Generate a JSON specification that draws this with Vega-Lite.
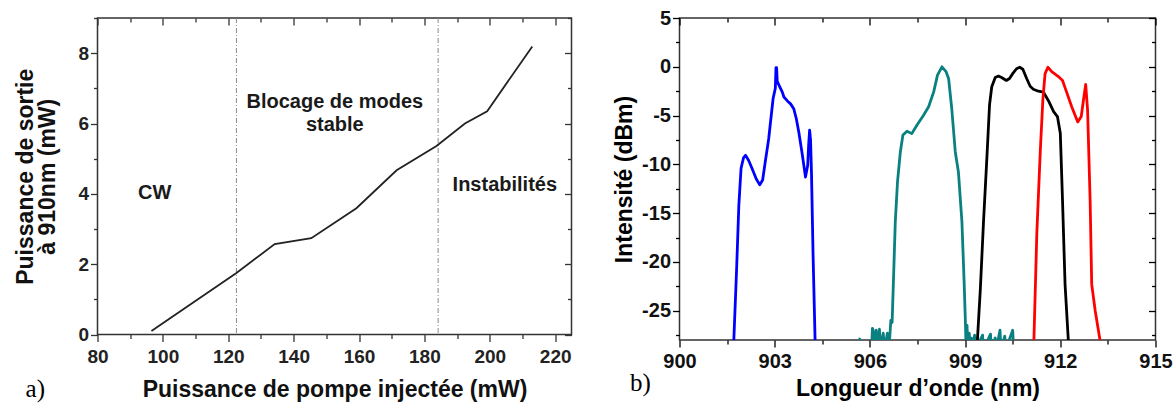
{
  "$schema": "https://vega.github.io/schema/vega-lite/v6.json",
  "padding": {"left": 13.5, "top": 7, "right": 0, "bottom": 0},
  "bounds": "flush",
  "spacing": 108,
  "config": {
    "view": {"stroke": "#333333", "strokeWidth": 1.5},
    "axis": {"grid": false, "labelFont": "Liberation Sans", "labelFontWeight": "bold", "titleFont": "Liberation Sans", "titleFontWeight": "bold"}
  },
  "datasets": {
    "pump": [
      {"pompe": 96.5, "sortie": 0.1},
      {"pompe": 122.5, "sortie": 1.75},
      {"pompe": 134.2, "sortie": 2.57},
      {"pompe": 145.4, "sortie": 2.74},
      {"pompe": 159.2, "sortie": 3.59},
      {"pompe": 171.5, "sortie": 4.67},
      {"pompe": 183.7, "sortie": 5.36},
      {"pompe": 192.4, "sortie": 6.0},
      {"pompe": 199.2, "sortie": 6.35},
      {"pompe": 213.0, "sortie": 8.19}
    ],
    "limits": [{"pompe": 122.5}, {"pompe": 184.2}],
    "regions": [
      {"t": "CW", "pompe": 97.5, "sortie": 4.01},
      {"t": "Blocage de modes", "pompe": 152.6, "sortie": 6.61},
      {"t": "stable", "pompe": 152.6, "sortie": 5.95},
      {"t": "Instabilités", "pompe": 204.6, "sortie": 4.25}
    ],
    "labA": [{"t": "a)", "pompe": 58.0, "sortie": -1.78}],
    "labB": [{"t": "b)", "nm": 898.44, "dbm": -33.2}],
    "spectra": [
      {"s": "b", "nm": 901.70, "dbm": -29},
      {"s": "b", "nm": 901.80, "dbm": -20.7},
      {"s": "b", "nm": 901.87, "dbm": -14.2},
      {"s": "b", "nm": 901.94, "dbm": -10.4},
      {"s": "b", "nm": 902.02, "dbm": -9.3},
      {"s": "b", "nm": 902.08, "dbm": -9.07},
      {"s": "b", "nm": 902.18, "dbm": -9.6},
      {"s": "b", "nm": 902.29, "dbm": -10.45},
      {"s": "b", "nm": 902.42, "dbm": -11.5},
      {"s": "b", "nm": 902.53, "dbm": -12.1},
      {"s": "b", "nm": 902.62, "dbm": -11.6},
      {"s": "b", "nm": 902.70, "dbm": -9.8},
      {"s": "b", "nm": 902.81, "dbm": -7.4},
      {"s": "b", "nm": 902.95, "dbm": -3.25},
      {"s": "b", "nm": 903.02, "dbm": -2.2},
      {"s": "b", "nm": 903.04, "dbm": -0.1},
      {"s": "b", "nm": 903.06, "dbm": -0.1},
      {"s": "b", "nm": 903.08, "dbm": -1.5},
      {"s": "b", "nm": 903.16, "dbm": -2.05},
      {"s": "b", "nm": 903.24, "dbm": -2.6},
      {"s": "b", "nm": 903.29, "dbm": -3.1},
      {"s": "b", "nm": 903.40, "dbm": -3.5},
      {"s": "b", "nm": 903.50, "dbm": -3.8},
      {"s": "b", "nm": 903.60, "dbm": -4.3},
      {"s": "b", "nm": 903.68, "dbm": -5.3},
      {"s": "b", "nm": 903.76, "dbm": -6.7},
      {"s": "b", "nm": 903.87, "dbm": -9.0},
      {"s": "b", "nm": 903.97, "dbm": -11.3},
      {"s": "b", "nm": 904.04, "dbm": -10.1},
      {"s": "b", "nm": 904.07, "dbm": -8.0},
      {"s": "b", "nm": 904.10, "dbm": -6.5},
      {"s": "b", "nm": 904.13, "dbm": -7.5},
      {"s": "b", "nm": 904.16, "dbm": -11.0},
      {"s": "b", "nm": 904.21, "dbm": -19.4},
      {"s": "b", "nm": 904.28, "dbm": -29},
      {"s": "t", "nm": 905.60, "dbm": -29},
      {"s": "t", "nm": 905.68, "dbm": -27.9},
      {"s": "t", "nm": 905.72, "dbm": -29},
      {"s": "t", "nm": 906.05, "dbm": -29},
      {"s": "t", "nm": 906.08, "dbm": -26.8},
      {"s": "t", "nm": 906.12, "dbm": -27.2},
      {"s": "t", "nm": 906.15, "dbm": -29},
      {"s": "t", "nm": 906.20, "dbm": -27.0},
      {"s": "t", "nm": 906.24, "dbm": -29},
      {"s": "t", "nm": 906.30, "dbm": -26.9},
      {"s": "t", "nm": 906.34, "dbm": -29},
      {"s": "t", "nm": 906.42, "dbm": -27.3},
      {"s": "t", "nm": 906.46, "dbm": -29},
      {"s": "t", "nm": 906.55, "dbm": -27.3},
      {"s": "t", "nm": 906.60, "dbm": -29},
      {"s": "t", "nm": 906.66, "dbm": -26.0},
      {"s": "t", "nm": 906.70, "dbm": -26.2},
      {"s": "t", "nm": 906.75, "dbm": -21.1},
      {"s": "t", "nm": 906.80, "dbm": -15.9},
      {"s": "t", "nm": 906.87, "dbm": -11.8},
      {"s": "t", "nm": 906.96, "dbm": -8.7},
      {"s": "t", "nm": 907.04, "dbm": -7.0},
      {"s": "t", "nm": 907.17, "dbm": -6.6},
      {"s": "t", "nm": 907.32, "dbm": -6.85},
      {"s": "t", "nm": 907.48, "dbm": -6.0},
      {"s": "t", "nm": 907.69, "dbm": -4.96},
      {"s": "t", "nm": 907.85, "dbm": -4.1},
      {"s": "t", "nm": 908.01, "dbm": -2.57},
      {"s": "t", "nm": 908.13, "dbm": -0.85},
      {"s": "t", "nm": 908.27, "dbm": 0},
      {"s": "t", "nm": 908.40, "dbm": -0.5},
      {"s": "t", "nm": 908.48, "dbm": -1.2},
      {"s": "t", "nm": 908.58, "dbm": -4.3},
      {"s": "t", "nm": 908.69, "dbm": -8.7},
      {"s": "t", "nm": 908.79, "dbm": -10.8},
      {"s": "t", "nm": 908.90, "dbm": -15.9},
      {"s": "t", "nm": 908.97, "dbm": -22.1},
      {"s": "t", "nm": 909.01, "dbm": -26.2},
      {"s": "t", "nm": 909.03, "dbm": -29},
      {"s": "t", "nm": 909.06, "dbm": -26.5},
      {"s": "t", "nm": 909.09, "dbm": -29},
      {"s": "t", "nm": 909.13, "dbm": -27.3},
      {"s": "t", "nm": 909.16, "dbm": -29},
      {"s": "t", "nm": 909.20, "dbm": -27.8},
      {"s": "t", "nm": 909.23, "dbm": -29},
      {"s": "t", "nm": 909.30, "dbm": -27.5},
      {"s": "t", "nm": 909.33, "dbm": -29},
      {"s": "t", "nm": 909.55, "dbm": -27.5},
      {"s": "t", "nm": 909.58, "dbm": -29},
      {"s": "t", "nm": 909.80, "dbm": -27.4},
      {"s": "t", "nm": 909.83, "dbm": -29},
      {"s": "t", "nm": 909.95, "dbm": -27.8},
      {"s": "t", "nm": 909.98, "dbm": -29},
      {"s": "t", "nm": 910.10, "dbm": -27.0},
      {"s": "t", "nm": 910.13, "dbm": -29},
      {"s": "t", "nm": 910.25, "dbm": -27.6},
      {"s": "t", "nm": 910.28, "dbm": -29},
      {"s": "t", "nm": 910.50, "dbm": -27.0},
      {"s": "t", "nm": 910.53, "dbm": -29},
      {"s": "k", "nm": 909.37, "dbm": -29},
      {"s": "k", "nm": 909.48, "dbm": -22.8},
      {"s": "k", "nm": 909.58, "dbm": -15.9},
      {"s": "k", "nm": 909.69, "dbm": -9.1},
      {"s": "k", "nm": 909.77, "dbm": -3.9},
      {"s": "k", "nm": 909.84, "dbm": -2.05},
      {"s": "k", "nm": 909.95, "dbm": -1.1},
      {"s": "k", "nm": 910.05, "dbm": -0.95},
      {"s": "k", "nm": 910.15, "dbm": -1.1},
      {"s": "k", "nm": 910.30, "dbm": -1.4},
      {"s": "k", "nm": 910.40, "dbm": -1.2},
      {"s": "k", "nm": 910.50, "dbm": -0.7},
      {"s": "k", "nm": 910.62, "dbm": -0.2},
      {"s": "k", "nm": 910.72, "dbm": -0.05},
      {"s": "k", "nm": 910.82, "dbm": -0.25},
      {"s": "k", "nm": 910.94, "dbm": -1.2},
      {"s": "k", "nm": 911.05, "dbm": -2.0},
      {"s": "k", "nm": 911.15, "dbm": -2.3},
      {"s": "k", "nm": 911.31, "dbm": -2.5},
      {"s": "k", "nm": 911.47, "dbm": -2.6},
      {"s": "k", "nm": 911.63, "dbm": -3.5},
      {"s": "k", "nm": 911.79, "dbm": -4.6},
      {"s": "k", "nm": 911.91, "dbm": -5.1},
      {"s": "k", "nm": 912.00, "dbm": -6.8},
      {"s": "k", "nm": 912.07, "dbm": -13.7},
      {"s": "k", "nm": 912.15, "dbm": -22.3},
      {"s": "k", "nm": 912.27, "dbm": -29},
      {"s": "r", "nm": 911.16, "dbm": -29},
      {"s": "r", "nm": 911.26, "dbm": -17.1},
      {"s": "r", "nm": 911.37, "dbm": -8.6},
      {"s": "r", "nm": 911.45, "dbm": -3.4},
      {"s": "r", "nm": 911.52, "dbm": -0.7},
      {"s": "r", "nm": 911.61, "dbm": -0.05},
      {"s": "r", "nm": 911.73, "dbm": -0.5},
      {"s": "r", "nm": 911.94, "dbm": -1.0},
      {"s": "r", "nm": 912.07, "dbm": -1.4},
      {"s": "r", "nm": 912.21, "dbm": -2.7},
      {"s": "r", "nm": 912.36, "dbm": -4.1},
      {"s": "r", "nm": 912.55, "dbm": -5.65},
      {"s": "r", "nm": 912.66, "dbm": -5.1},
      {"s": "r", "nm": 912.73, "dbm": -3.4},
      {"s": "r", "nm": 912.80, "dbm": -1.8},
      {"s": "r", "nm": 912.86, "dbm": -4.45},
      {"s": "r", "nm": 912.94, "dbm": -13.7},
      {"s": "r", "nm": 912.99, "dbm": -22.3},
      {"s": "r", "nm": 913.10, "dbm": -25.0},
      {"s": "r", "nm": 913.30, "dbm": -29}
    ]
  },
  "hconcat": [
    {
      "width": 474,
      "height": 316.5,
      "resolve": {"scale": {"x": "independent", "y": "independent"}},
      "layer": [
        {
          "data": {"name": "limits"},
          "mark": {"type": "rule", "color": "#8a8a8a", "strokeWidth": 1, "strokeDash": [5, 2, 1, 2]},
          "encoding": {
            "x": {"field": "pompe", "type": "quantitative", "scale": {"domain": [80, 225], "nice": false, "zero": false}, "axis": null}
          }
        },
        {
          "data": {"name": "pump"},
          "mark": {"type": "line", "color": "#222222", "strokeWidth": 1.8},
          "encoding": {
            "x": {"field": "pompe", "type": "quantitative", "scale": {"domain": [80, 225], "nice": false, "zero": false},
              "axis": {"orient": "bottom", "domain": false, "title": "Puissance de pompe injectée (mW)", "values": [80, 90, 100, 110, 120, 130, 140, 150, 160, 170, 180, 190, 200, 210, 220],
                "labelExpr": "datum.value % 20 == 0 ? datum.label : ''", "labelFontSize": 19, "labelColor": "#222222", "labelPadding": 6, "labelFlush": false, "labelOverlap": false,
                "tickSize": 7, "tickWidth": 1.3, "tickDash": {"condition": {"test": "datum.value % 20 != 0", "value": [4, 20]}, "value": [20, 0]},
                "tickColor": "#333333", "titleFontSize": 23, "titleColor": "#111111", "titlePadding": 12}},
            "y": {"field": "sortie", "type": "quantitative", "scale": {"domain": [0, 9], "nice": false, "zero": false},
              "axis": {"orient": "left", "domain": false, "title": ["Puissance de sortie", "à 910nm (mW)"], "values": [0, 1, 2, 3, 4, 5, 6, 7, 8, 9],
                "labelExpr": "datum.value % 2 == 0 ? datum.label : ''", "labelFontSize": 19, "labelColor": "#222222", "labelPadding": 2, "labelFlush": false, "labelOverlap": false,
                "tickSize": 7, "tickWidth": 1.3, "tickDash": {"condition": {"test": "datum.value % 2 != 0", "value": [4, 20]}, "value": [20, 0]},
                "tickColor": "#333333", "titleFontSize": 23, "titleColor": "#111111", "titleLineHeight": 21.5, "titlePadding": 18.5}}
          }
        },
        {
          "data": {"name": "regions"},
          "mark": {"type": "text", "font": "Liberation Sans", "fontWeight": "bold", "fontSize": 20, "color": "#1a1a1a", "align": "center", "baseline": "middle"},
          "encoding": {
            "x": {"field": "pompe", "type": "quantitative", "scale": {"domain": [80, 225], "nice": false, "zero": false}, "axis": null},
            "y": {"field": "sortie", "type": "quantitative", "scale": {"domain": [0, 9], "nice": false, "zero": false}, "axis": null},
            "text": {"field": "t"}
          }
        },
        {
          "data": {"name": "labA"},
          "mark": {"type": "text", "font": "Liberation Serif", "fontSize": 25, "color": "#000000", "align": "left", "baseline": "alphabetic"},
          "encoding": {
            "x": {"field": "pompe", "type": "quantitative", "scale": {"domain": [80, 225], "nice": false, "zero": false},
              "axis": {"orient": "top", "domain": false, "title": null, "labels": false, "values": [80, 90, 100, 110, 120, 130, 140, 150, 160, 170, 180, 190, 200, 210, 220],
                "tickSize": -7, "tickWidth": 1.3, "tickColor": "#333333", "tickDash": {"condition": {"test": "datum.value % 20 != 0", "value": [4, 20]}, "value": [20, 0]}}},
            "y": {"field": "sortie", "type": "quantitative", "scale": {"domain": [0, 9], "nice": false, "zero": false},
              "axis": {"orient": "right", "domain": false, "title": null, "labels": false, "values": [0, 1, 2, 3, 4, 5, 6, 7, 8, 9],
                "tickSize": -7, "tickWidth": 1.3, "tickColor": "#333333", "tickDash": {"condition": {"test": "datum.value % 2 != 0", "value": [4, 20]}, "value": [20, 0]}}},
            "text": {"field": "t"}
          }
        }
      ]
    },
    {
      "width": 476,
      "height": 322,
      "resolve": {"scale": {"x": "independent", "y": "independent"}},
      "layer": [
        {
          "data": {"name": "spectra"},
          "mark": {"type": "line", "strokeWidth": 2.8, "clip": true, "strokeJoin": "round"},
          "encoding": {
            "x": {"field": "nm", "type": "quantitative", "scale": {"domain": [900, 915], "nice": false, "zero": false},
              "axis": {"orient": "bottom", "domain": false, "title": "Longueur d’onde (nm)", "values": [900, 901.5, 903, 904.5, 906, 907.5, 909, 910.5, 912, 913.5, 915],
                "labelExpr": "datum.value % 3 == 0 ? '' + datum.value : ''", "labelFontSize": 20, "labelColor": "#111111", "labelPadding": 4, "labelFlush": false, "labelOverlap": false,
                "tickSize": 7, "tickWidth": 1.3, "tickDash": {"condition": {"test": "datum.value % 3 != 0", "value": [4, 20]}, "value": [20, 0]},
                "tickColor": "#000000", "titleFontSize": 23, "titleColor": "#000000", "titlePadding": 6}},
            "y": {"field": "dbm", "type": "quantitative", "scale": {"domain": [-28, 5], "nice": false, "zero": false},
              "axis": {"orient": "left", "domain": false, "title": "Intensité (dBm)", "values": [5, 2.5, 0, -2.5, -5, -7.5, -10, -12.5, -15, -17.5, -20, -22.5, -25, -27.5],
                "labelExpr": "datum.value % 5 == 0 ? '' + datum.value : ''", "labelFontSize": 20, "labelColor": "#111111", "labelPadding": 2, "labelFlush": false, "labelOverlap": false,
                "tickSize": 7, "tickWidth": 1.3, "tickDash": {"condition": {"test": "datum.value % 5 != 0", "value": [4, 20]}, "value": [20, 0]},
                "tickColor": "#000000", "titleFontSize": 23, "titleColor": "#000000", "titlePadding": 5}},
            "color": {"field": "s", "type": "nominal", "scale": {"domain": ["b", "t", "k", "r"], "range": ["#0000ff", "#0a8080", "#000000", "#ff0000"]}, "legend": null},
            "order": {"field": "nm", "type": "quantitative"}
          }
        },
        {
          "data": {"name": "labB"},
          "mark": {"type": "text", "font": "Liberation Serif", "fontSize": 25, "color": "#000000", "align": "left", "baseline": "alphabetic"},
          "encoding": {
            "x": {"field": "nm", "type": "quantitative", "scale": {"domain": [900, 915], "nice": false, "zero": false},
              "axis": {"orient": "top", "domain": false, "title": null, "labels": false, "values": [900, 901.5, 903, 904.5, 906, 907.5, 909, 910.5, 912, 913.5, 915],
                "tickSize": -7, "tickWidth": 1.3, "tickColor": "#000000", "tickDash": {"condition": {"test": "datum.value % 3 != 0", "value": [4, 20]}, "value": [20, 0]}}},
            "y": {"field": "dbm", "type": "quantitative", "scale": {"domain": [-28, 5], "nice": false, "zero": false},
              "axis": {"orient": "right", "domain": false, "title": null, "labels": false, "values": [5, 2.5, 0, -2.5, -5, -7.5, -10, -12.5, -15, -17.5, -20, -22.5, -25, -27.5],
                "tickSize": -7, "tickWidth": 1.3, "tickColor": "#000000", "tickDash": {"condition": {"test": "datum.value % 5 != 0", "value": [4, 20]}, "value": [20, 0]}}},
            "text": {"field": "t"}
          }
        }
      ]
    }
  ]
}
